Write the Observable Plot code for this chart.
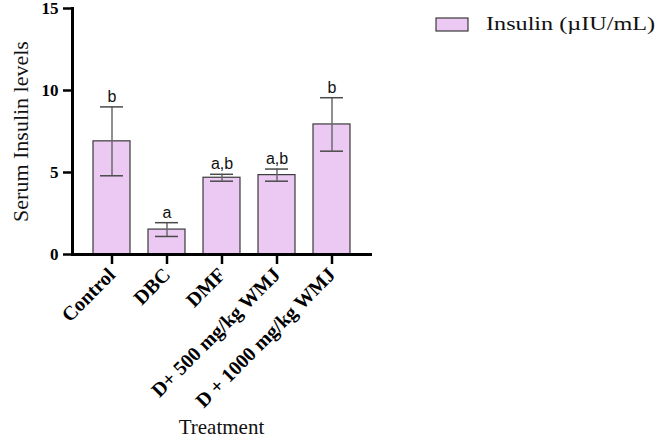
<!DOCTYPE html>
<html>
<head>
<meta charset="utf-8">
<script src="https://cdn.jsdelivr.net/npm/d3@7"></script>
<script src="https://cdn.jsdelivr.net/npm/@observablehq/plot@0.6"></script>
<style>
  body { margin: 0; background: #fff; }
  #wrap { position: relative; width: 657px; height: 440px; }
  #legend { position: absolute; left: 430px; top: 8px; }
</style>
</head>
<body>
<div id="wrap"></div>
<script>
const categories = ["Control", "DBC", "DMF", "D+ 500 mg/kg WMJ", "D + 1000 mg/kg WMJ"];
const means = [6.9, 1.52, 4.68, 4.84, 7.93];
const errors = [2.1, 0.42, 0.21, 0.37, 1.63];
const letters = ["b", "a", "a,b", "a,b", "b"];
const yTicks = [0, 5, 10, 15];
const seriesName = "Insulin (µIU/mL)";
const yLabel = "Serum Insulin levels";
const xLabel = "Treatment";

const data = categories.map((c, i) => ({
  cat: c, mean: means[i], lo: means[i] - errors[i], hi: means[i] + errors[i], letter: letters[i]
}));

const barFill = "#ebc9f3";
const serif = "'Liberation Serif', 'Times New Roman', serif";
const sans = "'Liberation Sans', Arial, sans-serif";

const chart = Plot.plot({
  width: 657,
  height: 440,
  marginLeft: 72,
  marginRight: 287,
  marginTop: 8,
  marginBottom: 186,
  style: { background: "#fff", overflow: "visible" },
  x: { domain: categories, range: [72, 370], paddingInner: 0.333, paddingOuter: 0.35, label: null },
  y: { domain: [0, 15], label: null },
  marks: [
    Plot.barY(data, { x: "cat", y: "mean", fill: barFill, stroke: "#3a3a3a", strokeWidth: 1.2 }),
    Plot.ruleX(data, { x: "cat", y1: "lo", y2: "hi", stroke: "#6a6a6a", strokeWidth: 1.5 }),
    Plot.tickY(data, { x: "cat", y: "hi", stroke: "#4a4a4a", strokeWidth: 1.5, insetLeft: 7, insetRight: 7 }),
    Plot.tickY(data, { x: "cat", y: "lo", stroke: "#4a4a4a", strokeWidth: 1.5, insetLeft: 7, insetRight: 7 }),
    Plot.text(data, { x: "cat", y: "hi", text: "letter", dy: -5, lineAnchor: "bottom",
      fontFamily: sans, fontSize: 16, fill: "#111" }),
    Plot.axisY({ ticks: yTicks, tickSize: 9, tickPadding: 5, strokeWidth: 2.5, fontSize: 17,
      fontWeight: "bold", fontFamily: serif, fill: "#000", label: null }),
    Plot.axisX({ tickSize: 10, tickPadding: 7, strokeWidth: 2.5, tickRotate: -45, fontSize: 20,
      fontWeight: "bold", fontFamily: serif, fill: "#000", label: null }),
    Plot.frame({ anchor: "left", strokeWidth: 3, stroke: "#000" }),
    Plot.frame({ anchor: "bottom", strokeWidth: 3, stroke: "#000" }),
    Plot.text([yLabel], { frameAnchor: "left", textAnchor: "middle", dx: -52, rotate: -90,
      fontFamily: serif, fontSize: 22, fill: "#111" }),
    Plot.text([xLabel], { frameAnchor: "bottom", dy: 179, lineAnchor: "bottom",
      fontFamily: serif, fontSize: 21, fill: "#111" })
  ]
});
document.getElementById("wrap").appendChild(chart);

// legend
const leg = d3.select("#wrap").append("svg").attr("id", "legend").attr("width", 227).attr("height", 30);
leg.append("rect").attr("x", 6).attr("y", 10).attr("width", 32).attr("height", 13)
  .attr("fill", barFill).attr("stroke", "#3a3a3a").attr("stroke-width", 1.2);
leg.append("text").attr("x", 56).attr("y", 22).attr("font-family", serif).attr("font-size", 19)
  .attr("fill", "#111").attr("textLength", 169).attr("lengthAdjust", "spacingAndGlyphs").text(seriesName);
</script>
</body>
</html>
